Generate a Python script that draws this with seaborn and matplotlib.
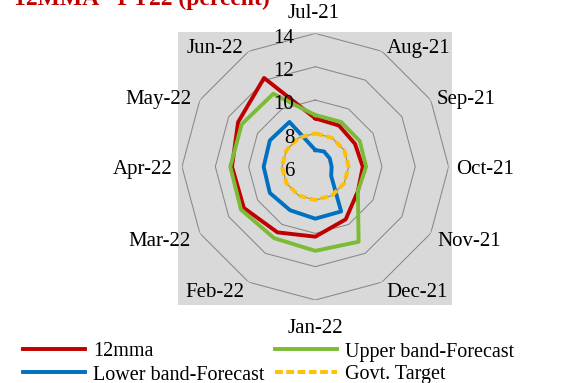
import numpy as np
import pandas as pd
import matplotlib
matplotlib.use("Agg")
import matplotlib.pyplot as plt
import seaborn as sns
from matplotlib.patches import Rectangle
from matplotlib.lines import Line2D

# ---- data -------------------------------------------------------------
months = ["Jul-21", "Aug-21", "Sep-21", "Oct-21", "Nov-21", "Dec-21",
          "Jan-22", "Feb-22", "Mar-22", "Apr-22", "May-22", "Jun-22"]
mma12 = [8.9, 8.85, 8.75, 8.85, 8.95, 9.65, 10.2, 10.55, 10.95, 11.0, 11.35, 12.15]
upper_band = [9.1, 9.1, 9.08, 9.05, 8.95, 11.2, 11.05, 10.95, 11.15, 11.1, 11.1, 11.05]
lower_band = [7.0, 7.05, 7.0, 6.98, 7.1, 9.1, 9.12, 9.02, 9.15, 9.1, 9.15, 9.1]
govt_target = [8.0] * 12
radial_ticks = [6, 8, 10, 12, 14]

series_names = ["12mma", "Upper band-Forecast", "Lower band-Forecast", "Govt. Target"]
series_values = [mma12, upper_band, lower_band, govt_target]
colors = {"12mma": "#c00000", "Upper band-Forecast": "#7cbb35",
          "Lower band-Forecast": "#0070c0", "Govt. Target": "#ffc000"}
dash_styles = {"12mma": "", "Upper band-Forecast": "", "Lower band-Forecast": "",
               "Govt. Target": (2.0, 0.9)}

# ---- long table, each series closed back onto its first month ----------
n = len(months)
theta = np.arange(n) * 2 * np.pi / n
rows = []
for name, vals in zip(series_names, series_values):
    for k in range(n + 1):
        rows.append({"theta": theta[k % n] if k < n else 2 * np.pi,
                     "value": vals[k % n], "series": name})
df = pd.DataFrame(rows)

# ---- figure -----------------------------------------------------------
W, H, DPI = 576, 383, 100
fig = plt.figure(figsize=(W / DPI, H / DPI), dpi=DPI, facecolor="white")
serif = ["Liberation Serif", "DejaVu Serif"]
plt.rcParams["font.family"] = serif

# grey plot area
fig.add_artist(Rectangle((178 / W, 1 - 305 / H), 274 / W, 273 / H,
                         transform=fig.transFigure, facecolor="#d9d9d9",
                         edgecolor="none", zorder=-5))

cx, cy, R = 315.3, 166.7, 133.3
ax = fig.add_axes([(cx - R) / W, 1 - (cy + R) / H, 2 * R / W, 2 * R / H],
                  projection="polar")
ax.set_theta_zero_location("N")
ax.set_theta_direction(-1)
ax.patch.set_alpha(0)
ax.spines["polar"].set_visible(False)
ax.grid(False)

# polygon rings
ring_theta = np.append(theta, 2 * np.pi)
for rv in radial_ticks[1:]:
    ax.plot(ring_theta, [rv] * (n + 1), color="#888888", lw=0.75, zorder=1)

sns.lineplot(data=df, x="theta", y="value", hue="series", style="series",
             hue_order=series_names, style_order=series_names,
             palette=colors, dashes=dash_styles, sort=False, estimator=None,
             linewidth=2.8, legend=False, ax=ax, zorder=3)

ax.set_ylim(radial_ticks[0], radial_ticks[-1])
ax.set_xticks([])
ax.set_yticks([])
ax.set_xlabel("")
ax.set_ylabel("")

# radial value labels along the top spoke
for rv in radial_ticks:
    ax.annotate(str(rv), xy=(0, rv), xycoords="data", xytext=(-21, -9.2),
                textcoords="offset pixels", ha="right", va="baseline",
                fontsize=15, color="black", annotation_clip=False, zorder=4)

# category labels (offset in pixels from each outer vertex, baseline aligned)
label_offsets = [(-2, 15, "center"), (4.7, -2.1, "left"), (5.9, -4, "left"),
                 (7.4, -7.3, "left"), (6.5, -12.4, "left"), (4, -15.2, "left"),
                 (0.5, -33.3, "center"), (-4.6, -15.2, "right"),
                 (-9.1, -12.4, "right"), (-9.3, -7.3, "right"),
                 (-8.1, -4, "right"), (-5.3, -2.1, "right")]
for t, lab, (dx, dy, ha) in zip(theta, months, label_offsets):
    ax.annotate(lab, xy=(t, radial_ticks[-1]), xycoords="data", xytext=(dx, dy),
                textcoords="offset pixels", ha=ha, va="baseline", fontsize=15,
                color="black", annotation_clip=False)

# title
fig.text(14 / W, 1 - 5 / H, "12MMA - FY22 (percent)", color="#c00000",
         fontsize=17, fontweight="bold", ha="left", va="baseline")

# legend
legend_pos = {"12mma": (23.3, 349.3), "Lower band-Forecast": (23.3, 372.3),
              "Upper band-Forecast": (275, 349.3), "Govt. Target": (275, 372.3)}
for name in series_names:
    x0, y0 = legend_pos[name]
    ls = "--" if dash_styles[name] else "-"
    ln = Line2D([x0 / W, (x0 + 62) / W], [1 - y0 / H, 1 - y0 / H],
                transform=fig.transFigure, color=colors[name], lw=2.8)
    if dash_styles[name]:
        ln.set_dashes(dash_styles[name])
    fig.add_artist(ln)
    fig.text((x0 + 70) / W, 1 - (y0 + 7.2) / H, name, fontsize=14.5,
             ha="left", va="baseline", color="black")

fig.savefig("out.png", dpi=DPI, facecolor="white")
